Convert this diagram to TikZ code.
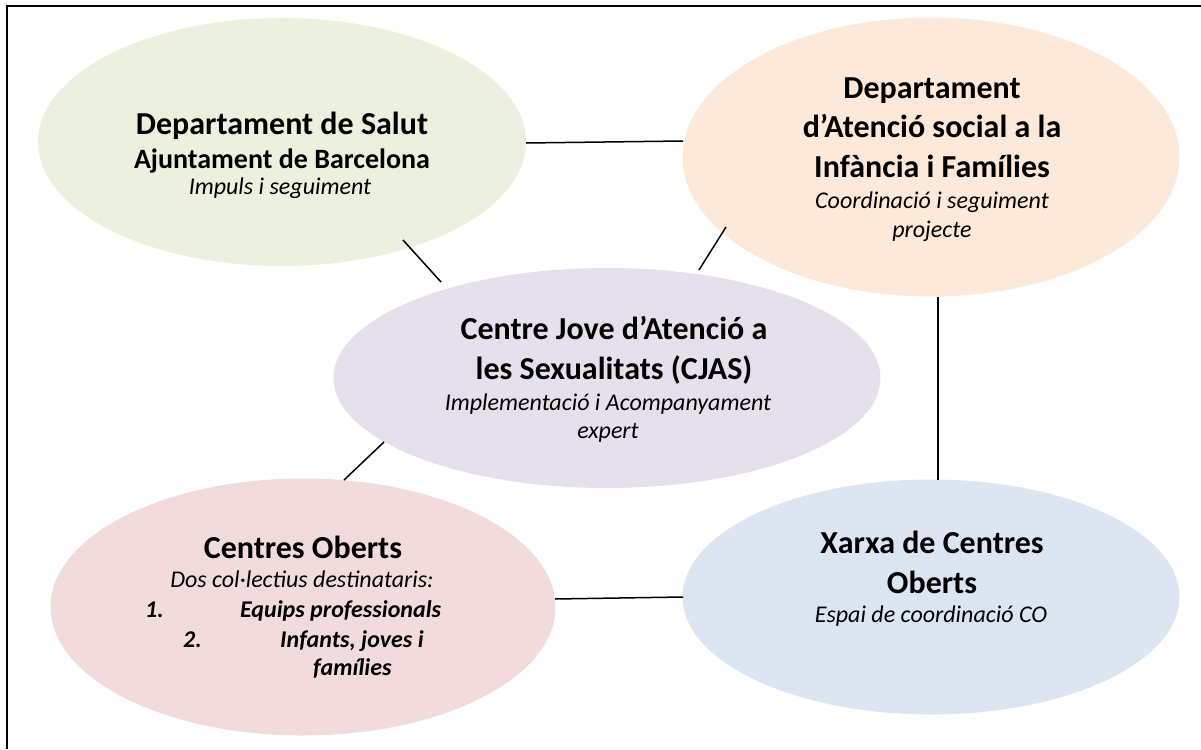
\documentclass[tikz,border=0pt]{standalone}
\usepackage{fontspec}
\setmainfont{Carlito}
\usetikzlibrary{shapes.geometric}
\definecolor{cgreen}{HTML}{EBF1DE}
\definecolor{corange}{HTML}{FDE9D9}
\definecolor{cpurple}{HTML}{E5E0EC}
\definecolor{cpink}{HTML}{F2DCDB}
\definecolor{cblue}{HTML}{DCE6F2}
\tikzset{
  oval/.style={ellipse, draw=none, inner sep=0pt},
  tbig/.style={anchor=base, inner sep=0pt, font=\fontsize{32}{38}\selectfont\bfseries},
  tmid/.style={anchor=base, inner sep=0pt, font=\fontsize{28}{34}\selectfont\bfseries},
  tit/.style={anchor=base, inner sep=0pt, font=\fontsize{24}{29}\selectfont\itshape},
  tbit/.style={anchor=base west, inner sep=0pt, font=\fontsize{24}{29}\selectfont\bfseries\itshape},
  link/.style={line width=1.5pt, black},
  frame/.style={line width=2.6pt, black}
}
\begin{document}
\begin{tikzpicture}[x=1pt,y=-1pt]
\useasboundingbox (0,0) rectangle (1201,749);
\draw[frame] (7,749) -- (7,6) -- (1201,6);
% ellipses
\node[oval, fill=cgreen, minimum width=488pt, minimum height=248pt] (G) at (282,142) {};
\node[oval, fill=corange, minimum width=497pt, minimum height=279pt] (O) at (931,157) {};
\node[oval, fill=cpurple, minimum width=547pt, minimum height=220pt] (P) at (607,378) {};
\node[oval, fill=cpink, minimum width=505pt, minimum height=257pt] (K) at (303,607) {};
\node[oval, fill=cblue, minimum width=497pt, minimum height=235pt] (B) at (931,597) {};
% connector end points
\coordinate (gr) at (526,143); \coordinate (ol) at (683,141);
\coordinate (gb) at (403,240); \coordinate (pt) at (441,282);
\coordinate (ob) at (726,227); \coordinate (pr) at (699,270);
\coordinate (os) at (938,297); \coordinate (bn) at (938,480);
\coordinate (pb) at (384,442); \coordinate (kt) at (344,480);
\coordinate (kr) at (555,599); \coordinate (bl) at (683,597);
\draw[link] (gr) -- (ol);
\draw[link] (gb) -- (pt);
\draw[link] (ob) -- (pr);
\draw[link] (os) -- (bn);
\draw[link] (pb) -- (kt);
\draw[link] (kr) -- (bl);
% green texts
\node[tbig] (g1) at (282,135) {Departament de Salut};
\node[tmid] (g2) at (282,168) {Ajuntament de Barcelona};
\node[tit] (g3) at (280,194) {Impuls i seguiment};
% orange texts
\node[tbig] (o1) at (932,99) {Departament};
\node[tbig] (o2) at (932,138) {d’Atenció social a la};
\node[tbig] (o3) at (932,177) {Infància i Famílies};
\node[tit] (o4) at (932,208) {Coordinació i seguiment};
\node[tit] (o5) at (932,237) {projecte};
% purple texts
\node[tbig] (p1) at (614,339) {Centre Jove d’Atenció a};
\node[tbig] (p2) at (614,379) {les Sexualitats (CJAS)};
\node[tit] (p3) at (608,410) {Implementació i Acompanyament};
\node[tit] (p4) at (608,438) {expert};
% pink texts
\node[tbig] (k1) at (303,558) {Centres Oberts};
\node[tit] (k2) at (302,587) {Dos col·lectius destinataris:};
\node[tbit] (k3) at (145,617) {1.};
\node[tbit] (k4) at (240,617) {Equips professionals};
\node[tbit] (k5) at (183,647) {2.};
\node[tbit] (k6) at (280,647) {Infants, joves i};
\node[tbit] (k7) at (313,675) {famílies};
% blue texts
\node[tbig] (b1) at (932,553) {Xarxa de Centres};
\node[tbig] (b2) at (932,593) {Oberts};
\node[tit] (b3) at (931,622) {Espai de coordinació CO};
\end{tikzpicture}
\end{document}
